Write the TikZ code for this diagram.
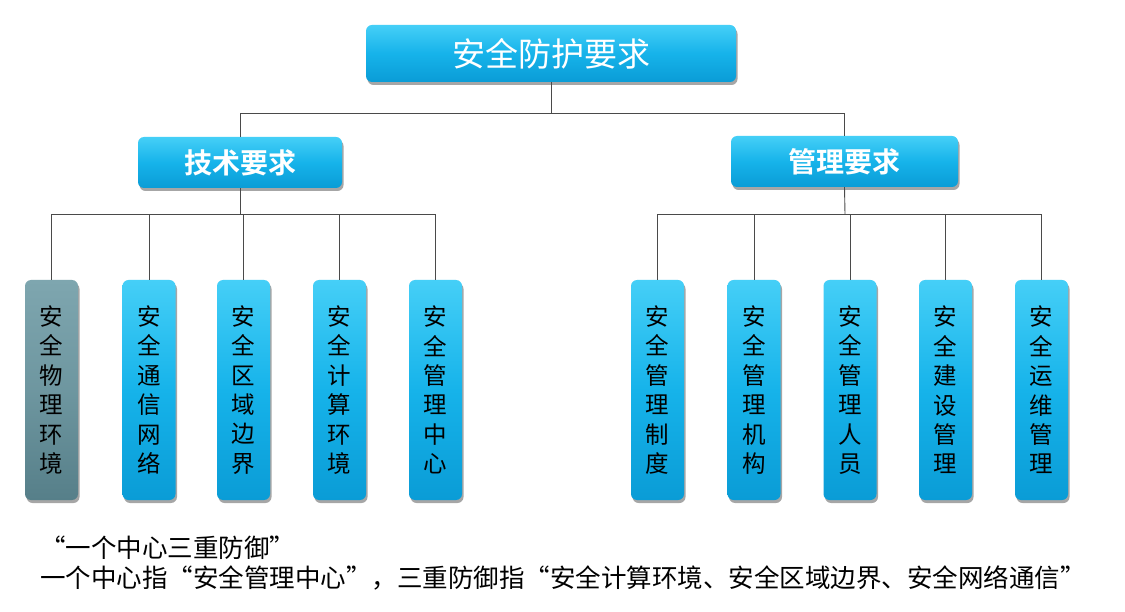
\documentclass[tikz,border=0pt]{standalone}
\usepackage{fontspec}
\setmainfont{Noto Sans CJK SC}
\newfontfamily\cjk{Noto Sans CJK SC}
\newfontfamily\cjkb{Noto Sans CJK SC Bold}
\usetikzlibrary{shadows}
\newcommand\myoq{\makebox[1em][r]{“}}
\newcommand\mycq{\makebox[1em][l]{”}}
\definecolor{cyanT}{HTML}{45CFF7}
\definecolor{cyanM}{HTML}{16B3EA}
\definecolor{cyanB}{HTML}{0A9CD6}
\definecolor{grayT}{HTML}{7EA6AF}
\definecolor{grayB}{HTML}{567F89}
\definecolor{lineC}{HTML}{4A4A4A}
\tikzset{
  boxbase/.style={rounded corners=6pt, inner sep=0pt,
    drop shadow={shadow xshift=1.5pt, shadow yshift=-3pt, fill=black, opacity=.35},
    top color=cyanT, bottom color=cyanB, middle color=cyanM},
  topbox/.style={boxbase, minimum width=370pt, minimum height=57pt, text=white, font=\cjk\fontsize{33}{35}\selectfont},
  midbox/.style={boxbase, minimum height=51pt, text=white, font=\cjkb\fontsize{28}{30}\selectfont},
  leaf/.style={boxbase, minimum width=53pt, minimum height=220pt, align=center, text=black, font=\cjk\fontsize{23.5}{29.4}\selectfont},
  grayleaf/.style={leaf, top color=grayT, bottom color=grayB, middle color=grayT!60!grayB},
  conn/.style={draw=lineC, line width=0.9pt},
  note/.style={anchor=west, inner sep=0pt, text=black, font=\cjk\fontsize{25.5}{27}\selectfont}
}
\begin{document}
\begin{tikzpicture}[x=1pt,y=-1pt]
\useasboundingbox (0,0) rectangle (1125,612);
\fill[white] (0,0) rectangle (1125,612);
\coordinate (j1) at (551,113);
\coordinate (j2) at (240,214);
\coordinate (j3) at (845,214);
\node[topbox] (top) at (551,53.5) {安全防护要求};
\node[midbox, minimum width=204pt] (tech) at (240,162.5) {技术要求};
\node[midbox, minimum width=227pt] (mgmt) at (844.5,161.5) {管理要求};
\node[grayleaf] (a1) at (51.5,390) {安\\全\\物\\理\\环\\境};
\node[leaf] (a2) at (149,390) {安\\全\\通\\信\\网\\络};
\node[leaf] (a3) at (243.5,390) {安\\全\\区\\域\\边\\界};
\node[leaf] (a4) at (339.5,390) {安\\全\\计\\算\\环\\境};
\node[leaf] (a5) at (435.5,390) {安\\全\\管\\理\\中\\心};
\node[leaf] (b1) at (657.5,390) {安\\全\\管\\理\\制\\度};
\node[leaf] (b2) at (754,390) {安\\全\\管\\理\\机\\构};
\node[leaf] (b3) at (850,390) {安\\全\\管\\理\\人\\员};
\node[leaf] (b4) at (945.5,390) {安\\全\\建\\设\\管\\理};
\node[leaf] (b5) at (1041.5,390) {安\\全\\运\\维\\管\\理};
\draw[conn] (top.south) -- (j1);
\draw[conn] (j1) -| (tech.north);
\draw[conn] (j1) -| (mgmt.north);
\draw[conn] (tech.south) -- (j2);
\draw[conn] (mgmt.south) -- (j3);
\foreach \n in {a1,a2,a3,a4,a5} {\draw[conn] (j2) -| (\n.north);}
\foreach \n in {b1,b2,b3,b4,b5} {\draw[conn] (j3) -| (\n.north);}
\node[note] (n1) at (40,548) {\myoq 一个中心三重防御\mycq};
\node[note] (n2) at (40,578) {一个中心指\myoq 安全管理中心\mycq ，三重防御指\myoq 安全计算环境、安全区域边界、安全网络通信\mycq};
\end{tikzpicture}
\end{document}
